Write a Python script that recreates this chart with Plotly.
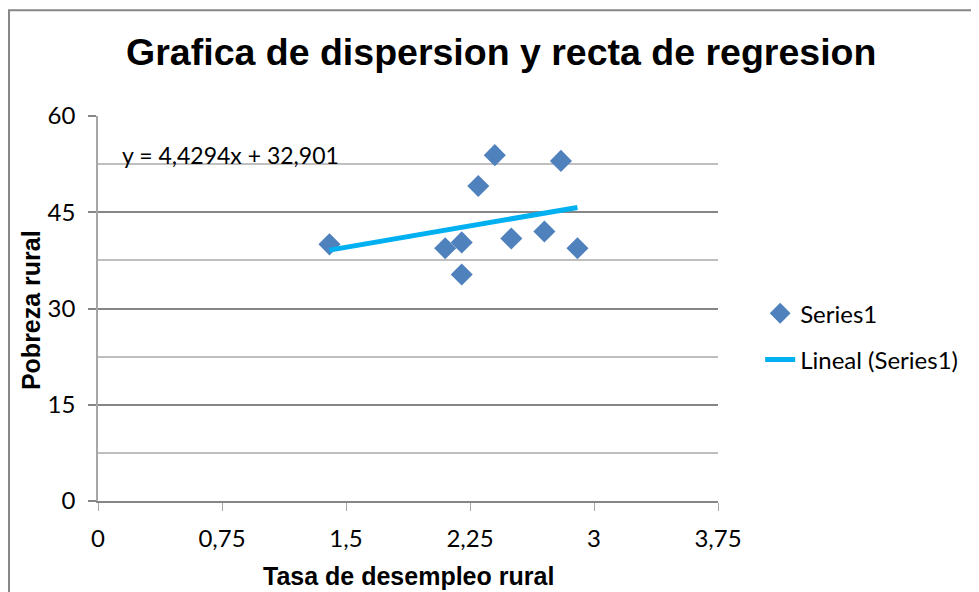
import plotly.graph_objects as go

# Tasa de desempleo rural vs Pobreza rural
desempleo = [1.4, 2.1, 2.2, 2.2, 2.3, 2.4, 2.5, 2.7, 2.8, 2.9]
pobreza = [40.0, 39.4, 40.3, 35.3, 49.1, 53.9, 40.9, 42.0, 53.0, 39.4]

# Linear trendline as reported on the chart
pendiente = 4.4294
intercepto = 32.901
ecuacion = "y = 4,4294x + 32,901"

x_ticks = [0, 0.75, 1.5, 2.25, 3, 3.75]
y_ticks = [0, 15, 30, 45, 60]

tx = [min(desempleo), max(desempleo)]
ty = [pendiente * v + intercepto for v in tx]

fig = go.Figure()
fig.add_trace(go.Scatter(
    x=desempleo, y=pobreza, mode='markers', name='Series1', legendgroup='a',
    marker=dict(symbol='diamond', size=17, color='#4F81BD')))
fig.add_trace(go.Scatter(
    x=tx, y=ty, mode='lines', name='Lineal (Series1)', legendgroup='b',
    line=dict(color='#00B0F0', width=5)))

grey = '#868686'
# page body has an 8px margin, so the figure is drawn 8px smaller
fig.update_layout(
    width=971, height=584,
    margin=dict(l=90, r=261, t=108, b=91),
    paper_bgcolor='white', plot_bgcolor='white',
    separators=', ',
    font=dict(family='Lato, Open Sans, sans-serif', size=24, color='black'),
    title=dict(text='<b>Grafica de dispersion y recta de regresion</b>',
               font=dict(family='Liberation Sans, Arial, sans-serif', size=37.5, color='black'),
               xref='container', x=0.508, xanchor='center',
               yref='container', y=0.925, yanchor='middle'),
    xaxis=dict(range=[0, 3.75], tickvals=x_ticks, showgrid=False, zeroline=False,
               showline=True, linecolor=grey, linewidth=2,
               ticks='outside', ticklen=8, tickcolor='#a6a6a6', tickwidth=1,
               ticklabelstandoff=7),
    yaxis=dict(range=[0, 60], tickvals=y_ticks, showgrid=True, gridcolor=grey, gridwidth=2,
               zeroline=False, showline=True, linecolor='#a6a6a6', linewidth=1.5,
               ticks='outside', ticklen=8, tickcolor=grey, tickwidth=2,
               ticklabelstandoff=8,
               minor=dict(dtick=7.5, showgrid=True, gridcolor='#bfbfbf', gridwidth=1.5)),
    legend=dict(x=1.068, xanchor='left', y=0.545, yanchor='top',
                tracegroupgap=12, font=dict(size=24)),
    showlegend=True,
)

fig.add_annotation(text='<b>Tasa de desempleo rural</b>', xref='paper', yref='paper',
                   x=0.5, y=-0.195, xanchor='center', yanchor='middle', showarrow=False,
                   font=dict(family='Liberation Sans, Arial, sans-serif', size=25))
fig.add_annotation(text='<b>Pobreza rural</b>', xref='paper', yref='paper',
                   x=-0.108, y=0.496, xanchor='center', yanchor='middle',
                   showarrow=False, textangle=-90,
                   font=dict(family='Liberation Sans, Arial, sans-serif', size=25))
fig.add_annotation(text=ecuacion, xref='paper', yref='paper',
                   x=0.036, y=0.899, xanchor='left', yanchor='middle', showarrow=False,
                   font=dict(size=23))

# chart area border
fig.add_shape(type='rect', xref='paper', yref='paper',
              x0=-0.1435, x1=1.5, y0=-0.26, y1=1.275,
              line=dict(color=grey, width=2), layer='below')

fig.write_html("out.html")
